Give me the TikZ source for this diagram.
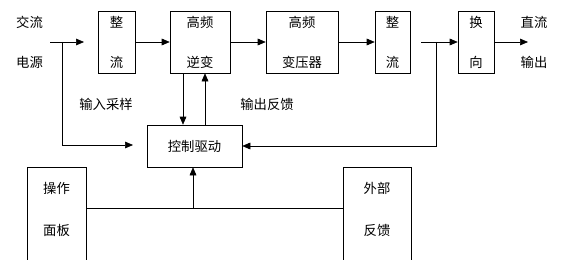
\documentclass[tikz,border=0pt]{standalone}
\usepackage{fontspec}
\setmainfont{Noto Sans CJK SC}
\usetikzlibrary{arrows.meta}

\begin{document}
\begin{tikzpicture}[x=0.75pt, y=0.75pt, yscale=-1,
  blk/.style={draw, thin, align=center, inner sep=0pt, font=\fontsize{10}{12}\selectfont},
  txt/.style={inner sep=0pt, font=\fontsize{10}{12}\selectfont},
  flow/.style={thin, -{Triangle[length=6pt, width=5pt]}}]
\useasboundingbox (0,0) rectangle (574,260);
% main chain
\node[blk, minimum width=37*0.75pt, minimum height=62*0.75pt] (zl1) at (116.5,42) {整\\[18pt]流};
\node[blk, minimum width=60*0.75pt, minimum height=62*0.75pt] (nb) at (200,42) {高频\\[18pt]逆变};
\node[blk, minimum width=72*0.75pt, minimum height=62*0.75pt] (byq) at (302,42) {高频\\[18pt]变压器};
\node[blk, minimum width=35*0.75pt, minimum height=62*0.75pt] (zl2) at (392.5,42) {整\\[18pt]流};
\node[blk, minimum width=36*0.75pt, minimum height=62*0.75pt] (hx) at (476,42) {换\\[18pt]向};
\node[blk, minimum width=95*0.75pt, minimum height=42*0.75pt] (kz) at (194.5,146) {控制驱动};
% side texts
\node[txt] (jl) at (29.5,22) {交流};
\node[txt] (dy) at (29.5,62) {电源};
\node[txt] (zhl) at (534,22) {直流};
\node[txt] (sc) at (534,62) {输出};
\node[txt] (srcy) at (106,104) {输入采样};
\node[txt] (scfk) at (267,104) {输出反馈};
% free ends
\coordinate (in0) at (50,42);
\coordinate (in1) at (84,42);
\coordinate (j1) at (62,42);
\coordinate (c1) at (133,145);
\coordinate (o0) at (421,42);
\coordinate (j2) at (436,42);
\coordinate (out) at (528,42);
\coordinate (b0) at (193,208);
% arrows
\draw[flow] (in0) -- (in1);
\draw[flow] (zl1) -- (nb);
\draw[flow] (nb) -- (byq);
\draw[flow] (byq) -- (zl2);
\draw[flow] (o0) -- (hx);
\draw[flow] (hx) -- (out);
\draw[flow] (j1) |- (c1);
\draw[flow] (j2) |- (kz.east);
\draw[flow] (nb.south -| 183,0) -- (kz.north -| 183,0);
\draw[flow] (kz.north -| 205,0) -- (nb.south -| 205,0);
% bottom panels
\draw[thin] (27,261) -- (27,167) -- (86,167) -- (86,261);
\draw[thin] (343,261) -- (343,167) -- (411,167) -- (411,261);
\node[txt] (cz) at (56.5,188) {操作};
\node[txt] (mb) at (56.5,230) {面板};
\node[txt] (wb) at (377,188) {外部};
\node[txt] (fk) at (377,230) {反馈};
\draw[thin] (86,208) -- (343,208);
\draw[flow] (b0) -- (kz.south -| b0);
\end{tikzpicture}
\end{document}
